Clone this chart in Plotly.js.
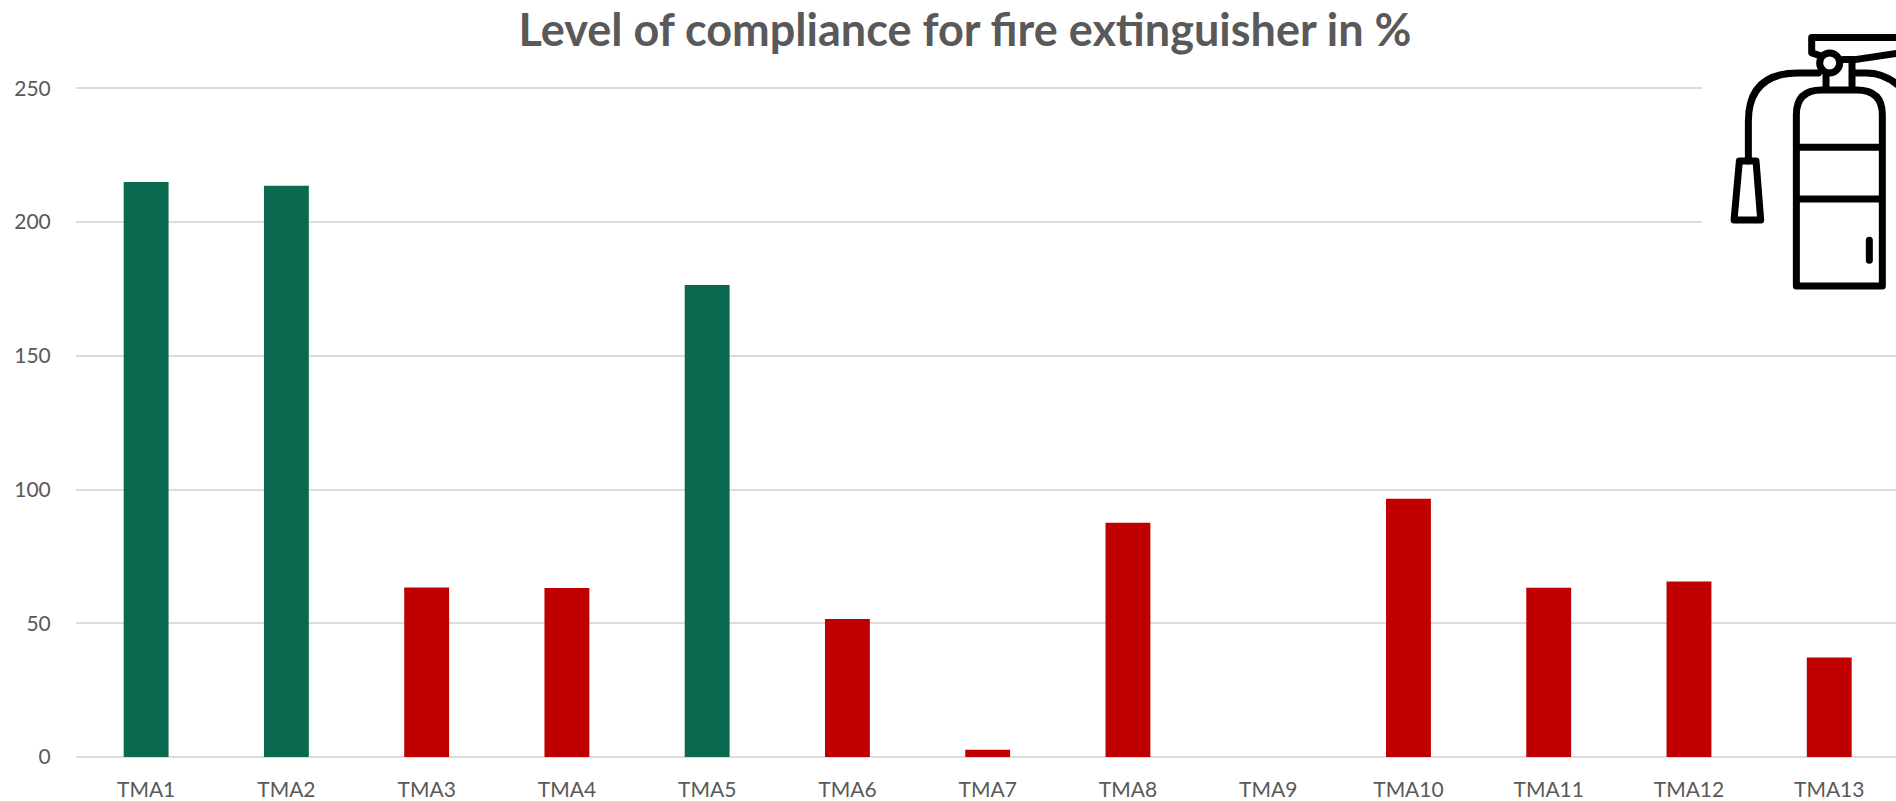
<!DOCTYPE html>
<html>
<head>
<meta charset="utf-8">
<script src="https://cdn.plot.ly/plotly-3.0.1.min.js"></script>
<style>html,body{margin:0;padding:0;background:#fff;overflow:hidden}#c{width:1896px;height:801px}</style>
</head>
<body>
<div id="c"></div>
<script>
const categories = ["TMA1","TMA2","TMA3","TMA4","TMA5","TMA6","TMA7","TMA8","TMA9","TMA10","TMA11","TMA12","TMA13"];
const values = [215, 213.6, 63.4, 63.2, 176.5, 51.6, 2.7, 87.6, 0, 96.6, 63.3, 65.6, 37.2];
const GREEN = "#0A694E", RED = "#C00000";
const barColors = [GREEN, GREEN, RED, RED, GREEN, RED, RED, RED, RED, RED, RED, RED, RED];
const yTicks = [0, 50, 100, 150, 200, 250];
const titleText = "Level of compliance for fire extinguisher in %";

const W = 1896, H = 801, L = 75.5, T = 87.4, B = 43.7;
const plotW = W - L, plotH = H - T - B;

const icon = `<svg xmlns="http://www.w3.org/2000/svg" width="648" height="930" viewBox="0 0 648 930">
<rect x="66" y="0" width="582" height="900" fill="#fff"/>
<g fill="none" stroke="#000" stroke-width="21" stroke-linejoin="round" stroke-linecap="round">
<path d="M349 859V345Q349 271 425 271H530Q607 271 607 345V859Z"/>
<path d="M349 443H607M349 598H607" stroke-linecap="butt"/>
<path d="M568 722V782"/>
<path d="M438 225V271M516 172V271" stroke-linecap="butt"/>
<circle cx="449" cy="190" r="30"/>
<path d="M420 168L395 160V114H660V160L525 180H490"/>
<path d="M415 220H355Q205 220 205 365V484"/>
<path d="M525 220H560Q615 220 660 262"/>
<path d="M178 484H228L242 661H162Z"/>
</g></svg>`;

Plotly.newPlot("c", [{
  type: "bar",
  x: categories,
  y: values,
  width: 0.32,
  marker: {color: barColors, line: {width: 0}},
  hoverinfo: "x+y"
}], {
  width: W, height: H,
  paper_bgcolor: "#fff", plot_bgcolor: "#fff",
  margin: {l: L, r: 0, t: T, b: B, pad: 0},
  showlegend: false,
  title: {
    text: titleText,
    font: {family: "Lato, Carlito, sans-serif", size: 45, color: "#595959", weight: 700},
    x: 965 / W, xanchor: "center",
    y: 1 - 30 / H, yanchor: "middle"
  },
  xaxis: {
    type: "category",
    categoryorder: "array", categoryarray: categories,
    range: [-0.5, 12.476],
    showgrid: false, zeroline: false, showline: false,
    ticks: "outside", ticklen: 14, tickcolor: "rgba(0,0,0,0)",
    tickfont: {family: "Lato, Carlito, sans-serif", size: 21, color: "#595959"}
  },
  yaxis: {
    range: [0, 250.5],
    tickmode: "array", tickvals: yTicks, ticktext: yTicks.map(String),
    showgrid: true, gridcolor: "#DCDCDC", gridwidth: 2,
    zeroline: true, zerolinecolor: "#DCDCDC", zerolinewidth: 2,
    showline: false,
    ticks: "outside", ticklen: 20, tickcolor: "rgba(0,0,0,0)",
    tickfont: {family: "Lato, Carlito, sans-serif", size: 21, color: "#595959"}
  },
  images: [{
    source: "data:image/svg+xml;charset=utf-8," + encodeURIComponent(icon),
    xref: "paper", yref: "paper",
    x: (1680 - L) / plotW, y: 1 + T / plotH,
    sizex: 216 / plotW, sizey: 310 / plotH,
    xanchor: "left", yanchor: "top", sizing: "stretch", layer: "above"
  }]
}, {displayModeBar: false});
</script>
</body>
</html>
